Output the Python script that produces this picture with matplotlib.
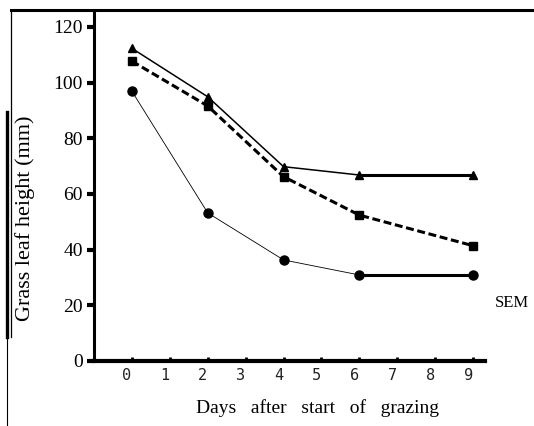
import matplotlib
matplotlib.use('Agg')
import matplotlib.pyplot as plt
import matplotlib.transforms as mtransforms
from matplotlib.lines import Line2D

# days after start of grazing and grass leaf height (mm) for the three treatments
days = [0, 2, 4, 6, 9]
tri_h = [112.3, 94.9, 69.8, 66.8, 66.8]
sq_h = [107.7, 91.6, 66.2, 52.4, 41.4]
circ_h = [96.9, 53.2, 36.3, 30.9, 30.9]
xticks = list(range(10))
yticks = [0, 20, 40, 60, 80, 100, 120]

serif = 'Liberation Serif'

fig = plt.figure(figsize=(5.34, 4.26), dpi=100)
ax = fig.add_axes([0.176, 0.1526, 0.732, 0.8169])

# triangles: solid line, heavier over the last interval
ax.plot(days[:4], tri_h[:4], color='black', lw=1.1)
ax.plot(days[3:], tri_h[3:], color='black', lw=2.2)
ax.plot(days, tri_h, ls='none', marker='^', ms=5.5, color='black')

# squares: thick dashed line
ax.plot(days, sq_h, color='black', lw=2.2, dashes=(2.6, 1.2),
        marker='s', ms=6, markerfacecolor='black')

# circles: thin line, heavier over the last interval
ax.plot(days[:4], circ_h[:4], color='black', lw=0.6)
ax.plot(days[3:], circ_h[3:], color='black', lw=2.2)
ax.plot(days, circ_h, ls='none', marker='o', ms=6.5, color='black')

ax.set_xlim(-1.0, 9.31)
ax.set_ylim(0, 125)

for s in ['top', 'right']:
    ax.spines[s].set_visible(False)
ax.spines['left'].set_linewidth(2.2)
ax.spines['bottom'].set_linewidth(3.0)

ax.set_xticks(xticks)
ax.set_xticklabels([str(v) for v in xticks], family='DejaVu Sans Mono',
                   fontsize=11, color='#222222')
ax.tick_params(axis='x', direction='in', length=3, width=2, pad=5)
shift = mtransforms.ScaledTranslation(-0.05, 0, fig.dpi_scale_trans)
for lab in ax.get_xticklabels():
    lab.set_transform(lab.get_transform() + shift)

ax.set_yticks(yticks)
ax.set_yticklabels([str(v) for v in yticks], family=serif, fontsize=14)
ax.tick_params(axis='y', direction='out', length=5, width=3, pad=3)

ax.set_ylabel('Grass leaf height (mm)', family=serif, fontsize=16)
ax.yaxis.set_label_coords(35 / 534, 1 - 218 / 426, transform=fig.transFigure)
ax.set_xlabel('Days   after   start   of   grazing', family=serif, fontsize=14)
ax.xaxis.set_label_coords(318 / 534, 1 - 399 / 426, transform=fig.transFigure)

fig.text(495 / 534, 1 - 303 / 426, 'SEM', family=serif, fontsize=12,
         ha='left', va='center')

# scan border lines
fig.add_artist(Line2D([11 / 534, 1], [1 - 10 / 426] * 2, color='black', lw=2.2))
fig.add_artist(Line2D([11 / 534] * 2, [1 - 10 / 426, 1 - 337 / 426], color='black', lw=0.9))
fig.add_artist(Line2D([6.5 / 534] * 2, [1 - 112 / 426, 1 - 337 / 426], color='black', lw=2.4))
fig.add_artist(Line2D([7 / 534] * 2, [1 - 337 / 426, 0], color='black', lw=0.8))

fig.savefig('out.png', dpi=100)
